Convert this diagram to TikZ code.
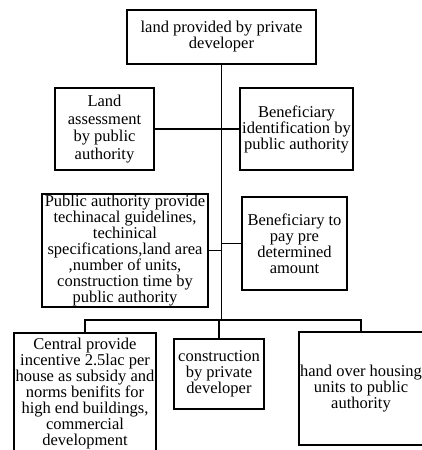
\documentclass[tikz,border=0pt]{standalone}
\usepackage{fontspec}
\setmainfont{Liberation Serif}
\usepackage{tikz}
\usetikzlibrary{positioning,calc}

\begin{document}
\begin{tikzpicture}[x=1pt,y=-1pt,font=\fontsize{16.5}{16}\selectfont]
\tikzstyle{box}=[draw,line width=1.8pt,inner sep=0pt,align=center]
\tikzstyle{link}=[line width=1.8pt]
\useasboundingbox (0,0) rectangle (422,450);
\node[box,minimum width=189pt,minimum height=54pt] (land) at (221.5,37) {land provided by private\\developer};
\node[box,minimum width=99pt,minimum height=82pt,font=\fontsize{16.5}{17.8}\selectfont] (assess) at (104.5,129) {Land\\assessment\\by public\\authority};
\node[box,minimum width=113pt,minimum height=82pt] (benid) at (296.5,129) {Beneficiary\\identification by\\public authority};
\node[box,minimum width=166pt,minimum height=113pt] (guide) at (125,250.5) {Public authority provide\\techinacal guidelines,\\techinical\\specifications,land area\\,number of units,\\construction time by\\public authority};
\node[box,minimum width=105pt,minimum height=93pt] (pay) at (294.5,243.5) {Beneficiary to\\pay pre\\determined\\amount};
\node[box,minimum width=142pt,minimum height=122pt,anchor=north] (incent) at (85,332) {Central provide\\incentive 2.5lac per\\house as subsidy and\\norms benifits for\\high end buildings,\\commercial\\development};
\node[box,minimum width=90pt,minimum height=70pt] (constr) at (219,374) {construction\\by private\\developer};
\node[box,minimum width=124pt,minimum height=113pt] (hand) at (361,388.5) {hand over housing\\units to public\\authority};
\coordinate (split) at (221,320);
% trunk and branches
\draw[link] (land.south) -- (land.south |- split);
\draw[link] (assess.east) -- (benid.west);
\draw[link] (guide.east) -- (guide.east -| land.south);
\draw[link] (pay.west) -- (pay.west -| land.south);
\draw[link] (incent.north) |- (split) -| (hand.north);
\draw[link] (constr.north |- split) -- (constr.north);
\end{tikzpicture}
\end{document}
